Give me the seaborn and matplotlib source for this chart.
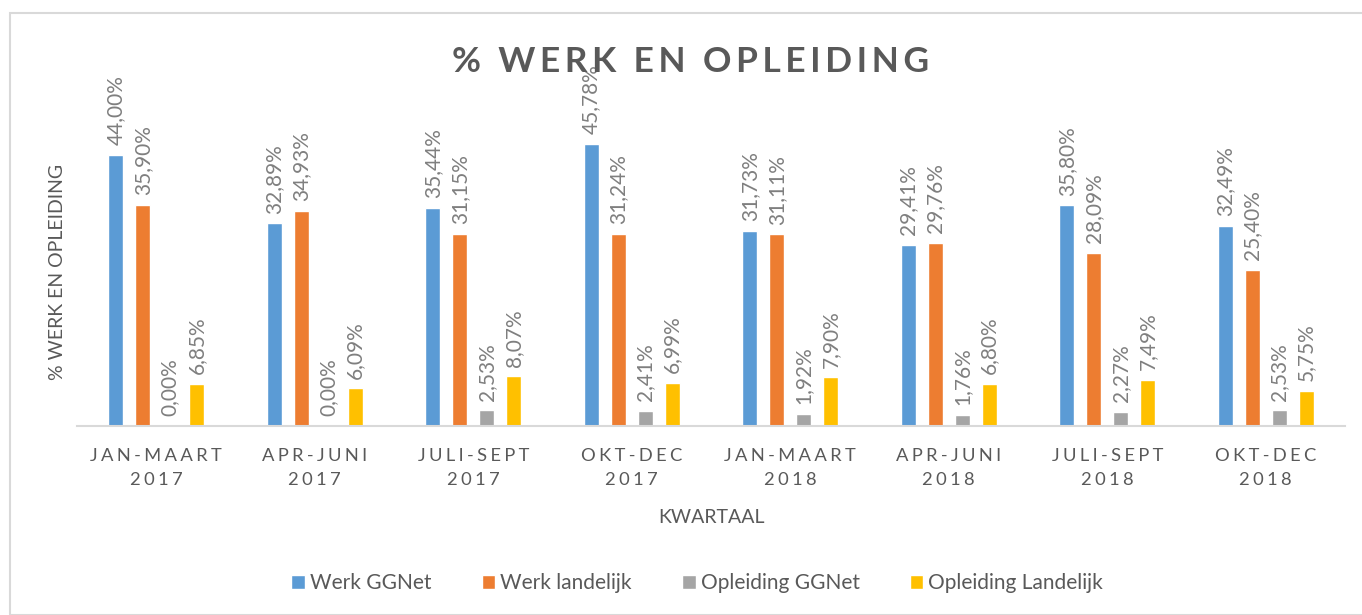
import pandas as pd
import seaborn as sns
import matplotlib.pyplot as plt
from matplotlib.patches import Rectangle

quarters = ['JAN-MAART\n2017', 'APR-JUNI\n2017', 'JULI-SEPT\n2017', 'OKT-DEC\n2017',
            'JAN-MAART\n2018', 'APR-JUNI\n2018', 'JULI-SEPT\n2018', 'OKT-DEC\n2018']
series = ['Werk GGNet', 'Werk landelijk', 'Opleiding GGNet', 'Opleiding Landelijk']
werk_ggnet = [44.00, 32.89, 35.44, 45.78, 31.73, 29.41, 35.80, 32.49]
werk_landelijk = [35.90, 34.93, 31.15, 31.24, 31.11, 29.76, 28.09, 25.40]
opleiding_ggnet = [0.00, 0.00, 2.53, 2.41, 1.92, 1.76, 2.27, 2.53]
opleiding_landelijk = [6.85, 6.09, 8.07, 6.99, 7.90, 6.80, 7.49, 5.75]
colors = ['#5b9bd5', '#ed7d31', '#a5a5a5', '#ffc000']


def spaced(s, sep='\u2009\u200a'):
    # letter spacing like the original axis labels
    return '\n'.join(sep.join(line) for line in s.split('\n'))


def main():
    df = pd.DataFrame({
        'Kwartaal': quarters * 4,
        'Reeks': [s for s in series for _ in quarters],
        'Waarde': werk_ggnet + werk_landelijk + opleiding_ggnet + opleiding_landelijk,
    })

    sns.set_style('white')
    plt.rcParams['font.family'] = ['Lato', 'DejaVu Sans']
    text_color = '#595959'

    fig = plt.figure(figsize=(13.62, 6.15), dpi=100)
    fig.patches.append(Rectangle((10 / 1362, 0), 1.0, 1 - 13 / 615, transform=fig.transFigure,
                                 fill=False, edgecolor='#d9d9d9', linewidth=1.5))
    ax = fig.add_axes([77 / 1362, 189 / 615, 1268 / 1362, 308 / 615])

    sns.barplot(data=df, x='Kwartaal', y='Waarde', hue='Reeks', hue_order=series,
                palette=colors, width=0.68, gap=0.44, saturation=1, ax=ax, legend=True)

    for cont in ax.containers:
        ax.bar_label(cont, labels=[f'{v:.2f}%'.replace('.', ',') for v in cont.datavalues],
                     rotation=90, padding=7, fontsize=15, color='#7f7f7f', clip_on=False)

    ax.set_ylim(0, 50)
    ax.set_yticks([])
    for side in ['top', 'right', 'left']:
        ax.spines[side].set_visible(False)
    ax.spines['bottom'].set_color('#d9d9d9')
    ax.spines['bottom'].set_linewidth(1.5)
    ax.tick_params(axis='x', length=0, pad=16)
    ax.set_xticks(range(len(quarters)))
    ax.set_xticklabels([spaced(q) for q in quarters], fontsize=13.2, color=text_color,
                       linespacing=1.6)
    ax.set_xlabel('KWARTAAL', fontsize=14, color=text_color, labelpad=15)
    ax.set_ylabel('% WERK EN OPLEIDING', fontsize=14, color=text_color, labelpad=8)

    fig.text(0.507, 0.9, spaced('% WERK EN OPLEIDING', '\u200a\u200a').replace('\u200a\u200a \u200a\u200a', '  '),
             ha='center', va='center', fontsize=25.5, fontweight='bold', color=text_color)

    handles, labels = ax.get_legend_handles_labels()
    ax.legend_.remove()
    fig.legend(handles, labels, loc='center', bbox_to_anchor=(0.512, 0.052), ncol=4,
               frameon=False, fontsize=15, labelcolor=text_color, handlelength=0.65,
               handleheight=0.65, handletextpad=0.25, columnspacing=2.4)

    fig.savefig('out.png', dpi=100)


if __name__ == '__main__':
    main()
